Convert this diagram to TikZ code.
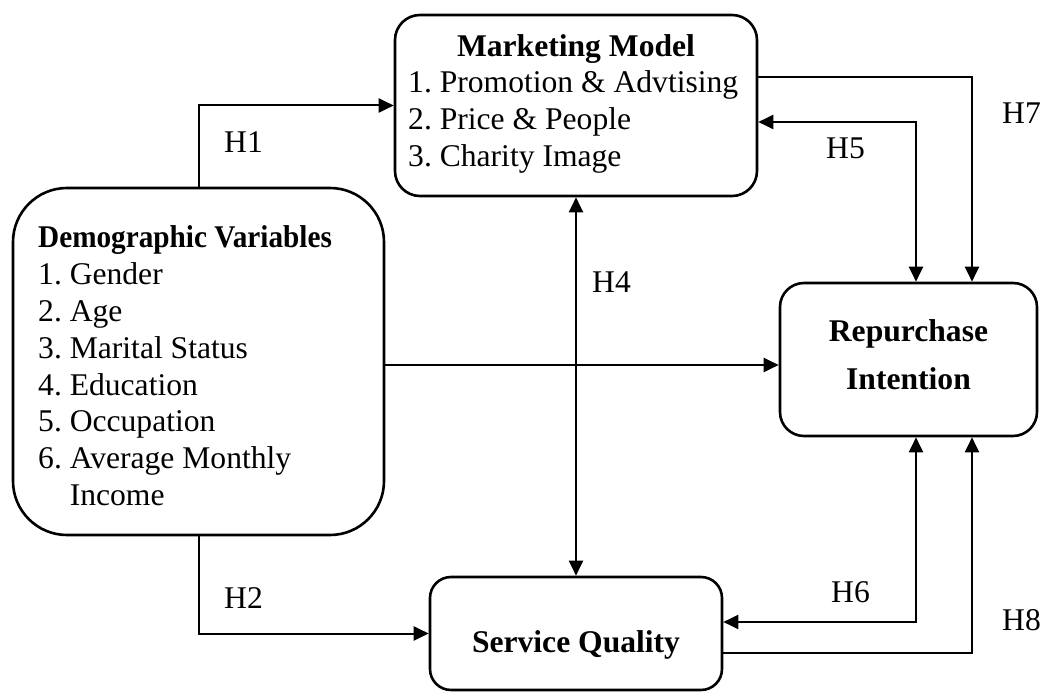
\documentclass[tikz,border=0pt]{standalone}
\usepackage{fontspec}
\setmainfont{Liberation Serif}
\usetikzlibrary{arrows.meta}
\begin{document}
\begin{tikzpicture}[x=1pt,y=-1pt,
  box/.style={draw, line width=2.6pt, rounded corners=#1, inner sep=0pt},
  box/.default=24pt,
  txt/.style={font=\fontsize{31.6}{37}\selectfont\frenchspacing, inner sep=0pt},
  head/.style={txt, font=\fontsize{31.6}{37}\selectfont\frenchspacing\bfseries},
  tip/.tip={Triangle[length=15pt,width=14pt]},
  link/.style={line width=2pt, -tip},
  both/.style={line width=2pt, tip-tip}]
\useasboundingbox (0,0) rectangle (1045,692);

% boxes
\node[box=25pt, minimum width=362pt, minimum height=181pt] (mm) at (576,105.5) {};
\node[box=54pt, minimum width=371pt, minimum height=347pt] (dv) at (198.5,361.5) {};
\node[box=24pt, minimum width=257pt, minimum height=153pt] (ri) at (908.5,359.5) {};
\node[box=21pt, minimum width=292pt, minimum height=113pt] (sq) at (576,633.5) {};

% marketing model contents
\node[head, anchor=base] (mmt) at (576,57) {Marketing Model};
\foreach \t [count=\i] in {1. Promotion \& Advtising, 2. Price \& People, 3. Charity Image}
  \node[txt, anchor=base west] (mml\i) at (408,{56+36.8*\i}) {\t};

% demographic variables contents
\node[head, anchor=base west] (dvt) at (38,248) {\scalebox{0.925}[1]{Demographic Variables}};
\foreach \t [count=\i] in {1. Gender, 2. Age, 3. Marital Status, 4. Education, 5. Occupation, 6. Average Monthly}
  \node[txt, anchor=base west] (dvl\i) at (38,{248+36.8*\i}) {\t};
\node[txt, anchor=base west] (dvl7) at (69.6,505.5) {Income};

% repurchase intention and service quality
\node[head, anchor=base] (rit1) at (908.5,342) {Repurchase};
\node[head, anchor=base] (rit2) at (908.5,390) {Intention};
\node[head, anchor=base] (sqt) at (576,652) {Service Quality};

% routing points
\coordinate (y365) at (0,365);
\coordinate (h5) at (916,122);
\coordinate (h7) at (972,77);
\coordinate (h6) at (916,622);
\coordinate (h8) at (972,653);

% connectors
\draw[link] (dv.north) |- (mm.west);
\draw[link] (dv.south) |- (sq.west);
\draw[link] (dv.east |- y365) -- (ri.west |- y365);
\draw[both] (mm.south) -- (sq.north);
\draw[both] (mm.east |- h5) -| (ri.north -| h5);
\draw[link] (mm.east |- h7) -| (ri.north -| h7);
\draw[both] (sq.east |- h6) -| (ri.south -| h6);
\draw[link] (sq.east |- h8) -| (ri.south -| h8);

% hypothesis labels
\node[txt, anchor=base west] (lh1) at (224,153) {H1};
\node[txt, anchor=base west] (lh2) at (224,608) {H2};
\node[txt, anchor=base west] (lh4) at (592,293) {H4};
\node[txt, anchor=base west] (lh5) at (826,159) {H5};
\node[txt, anchor=base west] (lh6) at (831,602) {H6};
\node[txt, anchor=base west] (lh7) at (1002,124) {H7};
\node[txt, anchor=base west] (lh8) at (1002,630) {H8};
\end{tikzpicture}
\end{document}
